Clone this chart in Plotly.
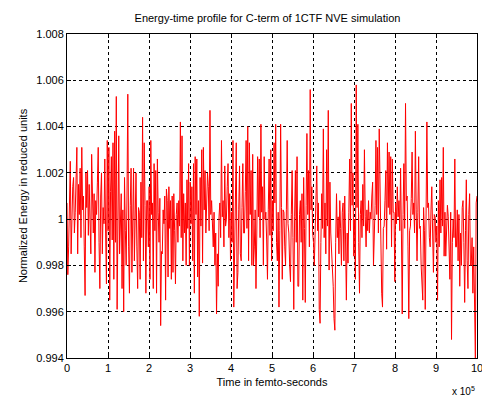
import numpy as np
import plotly.graph_objects as go

# Deviation of normalized energy from 1, in units of 1e-3
dev_1e3 = [
 # 0 - 1.7e5
 0.7,-2.4,-1.2,0.9,2.5,-1.5,0.5,1.4,1.8,-0.6,0.3,1.6,3.1,-1.5,1.5,0.2,2.2,-0.8,3.1,0.4,
 1.0,-1.2,-3.3,2.0,0.5,2.1,-0.7,1.5,0.2,-1.5,2.8,0.3,-0.6,1.1,-2.3,0.8,0.2,1.6,3.1,-1.0,
 -3.0,1.0,2.0,-1.5,0.5,-0.2,2.6,-0.6,-2.8,3.4,-0.5,3.1,-3.5,1.2,2.7,-0.9,3.3,-2.6,3.8,-1.0,
 5.3,-3.9,0.8,3.6,-1.5,0.8,1.1,-3.0,0.4,-4.0,1.8,-0.5,-2.0,1.0,5.4,-1.2,-3.2,0.6,2.2,-2.3,
 0.4,2.2,-1.8,1.1,
 # 1.7e5 - 3.4e5
 2.0,-1.2,-3.0,0.5,0.3,-2.6,1.6,-0.8,4.4,-1.8,3.3,0.6,-3.2,0.8,0.8,-1.2,1.4,-2.6,3.4,0.2,
 0.7,-3.0,2.4,-0.5,2.1,-3.2,2.6,0.3,-1.0,0.9,-4.6,-1.4,-1.5,0.4,-0.2,1.0,-3.5,1.3,0.8,-2.5,
 1.4,-0.4,0.8,-2.6,1.0,-2.3,1.1,-0.5,-2.8,0.2,0.7,-1.0,0.8,-0.3,4.2,-0.8,3.6,-1.8,1.1,-0.6,
 0.7,-2.0,1.7,-0.4,2.4,-2.0,1.6,-0.2,1.4,-1.8,2.4,-3.2,2.7,0.2,2.6,-2.5,0.8,-4.2,1.8,-0.3,
 3.0,-1.9,3.1,0.4,
 # 3.4e5 - 5.1e5
 2.1,-0.6,1.0,2.0,1.4,-0.5,4.7,0.2,0.8,-0.5,-1.2,0.3,-2.0,-0.6,-4.1,-1.5,-2.9,0.1,0.7,-0.8,
 3.4,0.1,0.8,-1.2,2.3,-0.3,0.0,1.4,2.4,-0.8,1.1,-1.8,0.3,-1.0,3.4,-3.8,-1.2,0.6,3.3,-3.0,
 -2.3,0.4,2.3,-1.5,-1.8,0.5,2.4,-0.6,-0.6,1.2,3.4,-0.4,4.0,-1.8,3.3,0.2,2.1,-2.0,2.8,-2.0,
 -1.2,0.4,-3.0,-0.6,2.7,0.1,2.6,-0.8,4.1,0.3,1.4,-2.0,2.7,0.0,0.3,-0.9,-2.6,0.4,2.6,-0.7,
 3.0,-1.8,0.8,-0.5,
 # 5.1e5 - 6.8e5
 3.3,0.7,4.1,-1.0,-1.8,0.3,-3.8,-0.5,4.1,0.5,-2.6,0.4,0.3,-1.2,-2.0,0.4,3.4,-0.2,-0.6,-2.0,
 -2.7,0.2,2.1,-0.8,-3.9,0.1,2.1,-1.0,2.7,-2.9,-2.9,0.2,0.8,-1.0,1.1,-3.5,1.8,-0.4,-3.6,0.6,
 3.7,0.2,2.1,-1.2,5.6,0.4,1.4,-0.6,-1.0,-2.0,-0.2,0.8,2.3,-0.5,0.7,-3.9,-4.5,-1.0,1.1,-0.4,
 3.9,-0.8,0.7,-1.5,3.0,-0.3,4.7,-2.2,1.6,-0.6,-1.2,-2.3,-2.9,-4.3,-4.8,-1.0,1.1,-0.8,0.1,-1.5,
 0.8,-0.4,-2.0,0.3,
 # 6.8e5 - 8.4e5
 0.7,-1.8,1.0,-0.9,-3.5,-0.6,-1.9,0.3,2.6,-0.5,5.0,0.6,2.0,-1.6,0.0,-2.6,5.8,0.5,4.1,-1.0,
 -3.2,0.2,0.8,-0.8,1.5,-0.3,3.0,0.1,-1.2,0.4,-0.5,0.8,-0.6,0.3,0.0,1.0,1.6,-2.0,-1.0,0.6,
 3.4,0.2,3.1,-0.6,3.9,0.4,-0.9,-3.2,-3.8,-0.4,-0.3,0.8,2.1,-1.3,3.3,0.5,2.9,0.2,2.7,-1.2,
 2.6,0.3,0.3,-2.7,0.7,-0.2,1.4,0.1,0.8,-0.5,2.2,-0.6,-4.1,0.2,2.4,-0.4,5.0,0.8,1.0,-1.2,
 -4.3,-0.5,-0.3,0.9,
 # 8.4e5 - 1e6
 2.9,0.2,0.7,-0.6,3.8,0.4,-1.8,0.3,2.7,-0.4,-0.3,-2.0,-2.8,-3.5,0.5,-0.5,-3.9,0.2,4.2,0.5,
 0.7,-0.8,-1.2,0.4,1.4,-0.6,-2.3,0.2,0.1,-1.0,-0.3,-3.5,0.8,-1.2,1.7,-0.6,1.8,-0.3,3.1,-1.6,
 0.3,-1.6,-0.3,0.6,0.1,-1.5,-2.6,0.3,-5.2,-1.0,0.0,-0.8,2.6,-1.2,-1.2,0.4,-1.8,0.2,-2.9,-0.6,
 -2.0,0.5,0.8,-1.0,-3.6,-0.5,1.7,-1.8,-3.0,0.2,1.1,-2.0,-2.0,-0.8,-3.2,-1.2,-4.3,-6.0,0.7,1.0,
]

energy = 1.0 + np.array(dev_1e3) * 1e-3
time_fs = np.linspace(0, 1e6, len(energy))

y_tickvals = [0.994, 0.996, 0.998, 1.0, 1.002, 1.004, 1.006, 1.008]
y_ticktext = ["0.994", "0.996", "0.998", "1", "1.002", "1.004", "1.006", "1.008"]
x_tickvals = [i * 1e5 for i in range(11)]
x_ticktext = [str(i) for i in range(11)]

fig = go.Figure()
fig.add_trace(go.Scatter(x=time_fs, y=energy, mode="lines",
                         line=dict(color="#ff0000", width=1), showlegend=False))

font = dict(family="Liberation Sans, Arial, sans-serif", size=11, color="#000000")

fig.update_layout(
    width=482, height=396,
    margin=dict(l=67, r=5, t=34, b=38, autoexpand=False),
    paper_bgcolor="white", plot_bgcolor="white",
    font=font,
    title=dict(text="Energy-time profile for C-term of 1CTF NVE simulation",
               x=0.555, xanchor="center", y=0.953, yanchor="middle",
               font=dict(family="Liberation Sans, Arial, sans-serif", size=11, color="#000")),
    xaxis=dict(range=[0, 1e6], tickvals=x_tickvals, ticktext=x_ticktext,
               ticklabeloverflow="allow", automargin=False,
               showgrid=True, gridcolor="#000000", griddash="3px,3px", gridwidth=1,
               showline=True, linecolor="#000000", linewidth=1, mirror="ticks",
               ticks="inside", ticklen=4, tickcolor="#000", zeroline=False,
               title=dict(text="Time in femto-seconds", standoff=5, font=font)),
    yaxis=dict(range=[0.994, 1.008], tickvals=y_tickvals, ticktext=y_ticktext,
               automargin=False,
               showgrid=True, gridcolor="#000000", griddash="3px,3px", gridwidth=1,
               showline=True, linecolor="#000000", linewidth=1, mirror="ticks",
               ticks="inside", ticklen=4, tickcolor="#000", zeroline=False,
               title=dict(text="Normalized Energy in reduced units", standoff=6, font=font)),
)
fig.add_annotation(text="x 10<sup>5</sup>", xref="paper", yref="paper", x=1.0, y=-0.103,
                   xanchor="right", yanchor="middle", showarrow=False,
                   font=dict(family="Liberation Sans, Arial, sans-serif", size=10, color="#000"))

fig.write_html("out.html")
